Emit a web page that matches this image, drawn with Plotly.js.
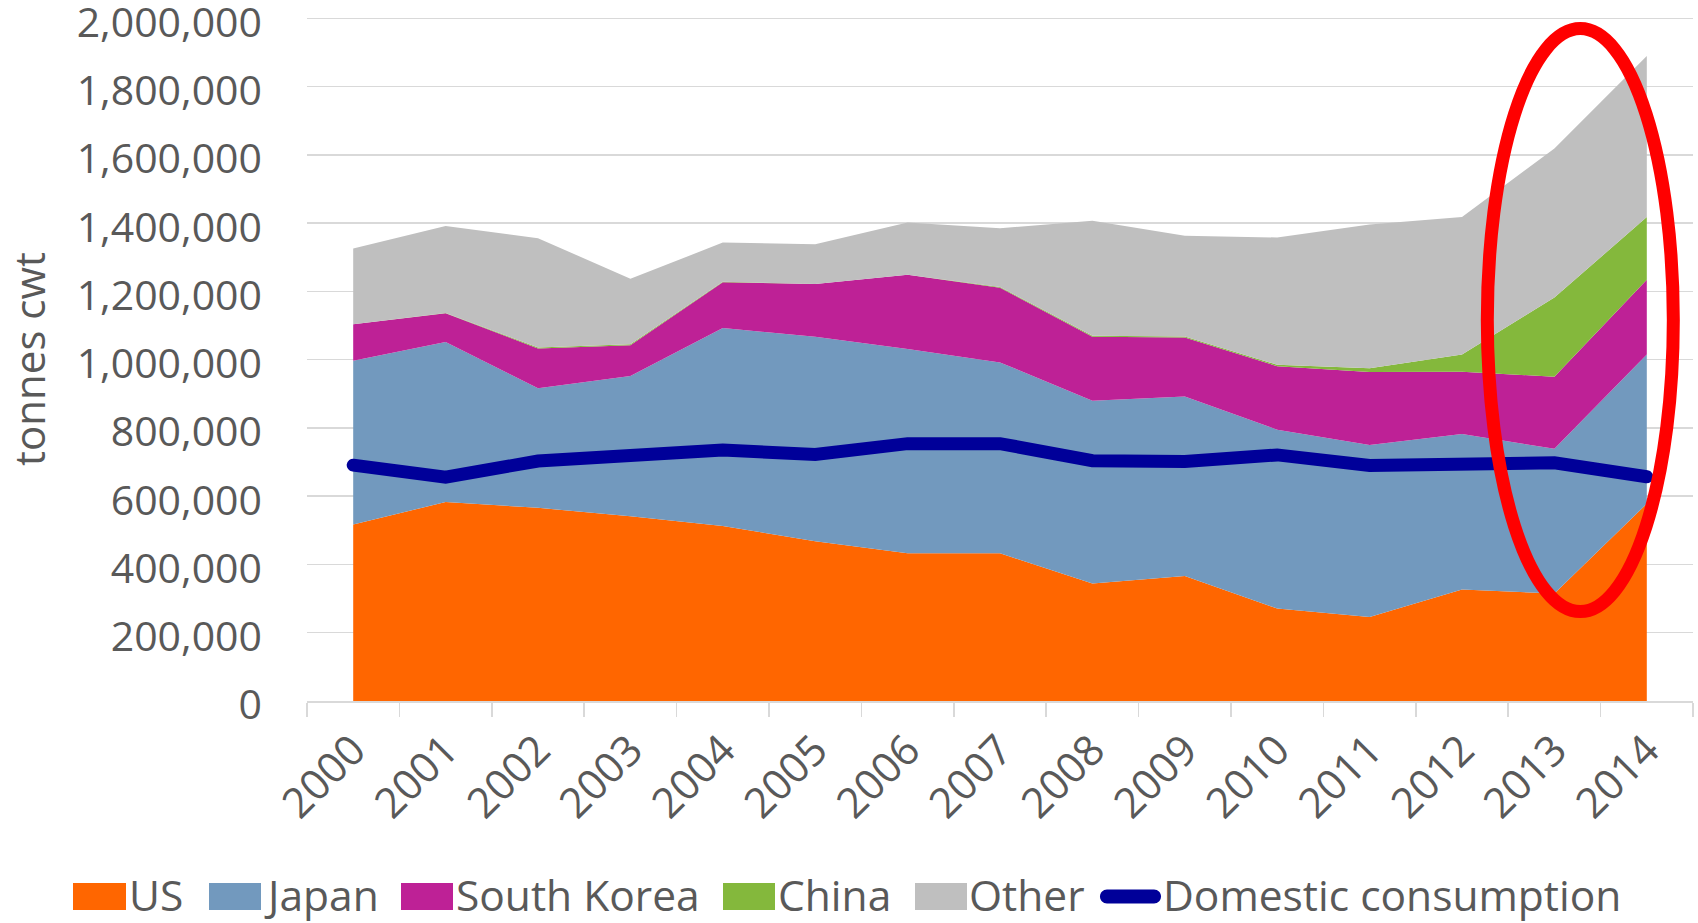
<!DOCTYPE html>
<html>
<head>
<meta charset="utf-8">
<script src="https://cdn.plot.ly/plotly-3.0.1.min.js"></script>
<style>
  html, body { margin: 0; padding: 0; background: #ffffff; }
  #chart { width: 1698px; height: 923px; }
  .scatterlayer .js-line { stroke-linecap: round; }
  .yaxislayer-above .ytick text { translate: 0 4px; }
</style>
</head>
<body>
<div id="chart"></div>
<script>
// ---- Data ----
const years = ["2000","2001","2002","2003","2004","2005","2006","2007","2008","2009","2010","2011","2012","2013","2014"];
const seriesNames = ["US", "Japan", "South Korea", "China", "Other"];
const usValues     = [517000, 583000, 566000, 541000, 513000, 468000, 433000, 433000, 344000, 366000, 271000, 246000, 327000, 315000, 578000];
const japanValues  = [480000, 469000, 350000, 411000, 580000, 599000, 598000, 559000, 536000, 526000, 524000, 504000, 455000, 424000, 437000];
const koreaValues  = [107000,  84000, 117000,  90000, 134000, 155000, 218000, 219000, 187000, 173000, 186000, 214000, 183000, 211000, 219000];
const chinaValues  = [     0,   1000,   3000,   3000,   1000,      0,      0,   2000,   3000,   3000,   4000,  11000,  50000, 232000, 184000];
const otherValues  = [222000, 255000, 320000, 192000, 115000, 116000, 153000, 172000, 337000, 295000, 373000, 421000, 403000, 437000, 472000];
const domesticName = "Domestic consumption";
const domesticValues = [691000, 656000, 703000, 721000, 735000, 722000, 754000, 754000, 704000, 702000, 721000, 690000, 695000, 698000, 657000];
const yTickValues = [0, 200000, 400000, 600000, 800000, 1000000, 1200000, 1400000, 1600000, 1800000, 2000000];
const yAxisTitle = "tonnes cwt";

// ---- Styles ----
const seriesColors = ["#ff6600", "#7299be", "#be2196", "#84b83c", "#bfbfbf"];
const domesticColor = "#000099";
const textColor = "#595959";
const gridColor = "#d9d9d9";
const fontFamily = "'Open Sans', 'DejaVu Sans', sans-serif";

const seriesValues = [usValues, japanValues, koreaValues, chinaValues, otherValues];

const traces = seriesNames.map((name, i) => ({
  type: "scatter",
  mode: "lines",
  name: name,
  x: years,
  y: seriesValues[i],
  stackgroup: "exports",
  fillcolor: seriesColors[i],
  line: { width: 0, color: seriesColors[i] },
  hoverinfo: "x+y+name"
}));

traces.push({
  type: "scatter",
  mode: "lines",
  name: domesticName,
  x: years,
  y: domesticValues,
  line: { color: domesticColor, width: 13 },
  hoverinfo: "x+y+name"
});

// ---- Layout geometry (pixels) ----
const W = 1698, H = 923;
const M = { l: 307, r: 5, t: 17, b: 222 };
const plotW = W - M.l - M.r;
const plotH = H - M.t - M.b;
const px2x = px => (px - M.l) / plotW;
const py2y = py => (H - M.b - py) / plotH;

// custom legend (swatches + labels)
const legendBoxes = [[73, 126], [209, 261], [401, 453], [723, 775], [915, 967]];
const legendTextX = [127, 262, 454, 776, 967, 1161];
const legendTop = 883, legendBottom = 910, legendTextMid = 894;
const domLineX = [1107, 1154], domLineHalf = 7;

const shapes = [];
const annotations = [];

legendBoxes.forEach((b, i) => {
  shapes.push({
    type: "rect", xref: "paper", yref: "paper",
    x0: px2x(b[0]), x1: px2x(b[1]), y0: py2y(legendBottom), y1: py2y(legendTop),
    fillcolor: seriesColors[i], line: { width: 0 }
  });
});
// rounded line swatch for domestic consumption
(function () {
  const cy = (legendTop + legendBottom) / 2;
  const x0 = domLineX[0], x1 = domLineX[1], r = domLineHalf;
  const k = 0.5523 * r;
  const P = (x, y) => px2x(x).toFixed(5) + "," + py2y(y).toFixed(5);
  const path =
    "M" + P(x0, cy - r) + " L" + P(x1, cy - r) +
    " C" + P(x1 + k, cy - r) + " " + P(x1 + r, cy - k) + " " + P(x1 + r, cy) +
    " C" + P(x1 + r, cy + k) + " " + P(x1 + k, cy + r) + " " + P(x1, cy + r) +
    " L" + P(x0, cy + r) +
    " C" + P(x0 - k, cy + r) + " " + P(x0 - r, cy + k) + " " + P(x0 - r, cy) +
    " C" + P(x0 - r, cy - k) + " " + P(x0 - k, cy - r) + " " + P(x0, cy - r) + " Z";
  shapes.push({ type: "path", xref: "paper", yref: "paper", path: path,
    fillcolor: domesticColor, line: { width: 0 } });
})();

seriesNames.concat([domesticName]).forEach((name, i) => {
  annotations.push({
    xref: "paper", yref: "paper",
    x: px2x(legendTextX[i]), y: py2y(legendTextMid),
    xanchor: "left", yanchor: "middle",
    text: name, showarrow: false,
    font: { family: fontFamily, size: 42.5, color: textColor }
  });
});

// red highlight ellipse around 2013-2014 (in axis coordinates)
shapes.push({
  type: "circle", xref: "x", yref: "y", layer: "above",
  x0: 12.274, x1: 14.287, y0: 262000, y1: 1970000,
  line: { color: "#ff0000", width: 13 }, fillcolor: "rgba(0,0,0,0)"
});

const layout = {
  width: W, height: H,
  margin: M,
  paper_bgcolor: "#ffffff",
  plot_bgcolor: "#ffffff",
  showlegend: false,
  font: { family: fontFamily, color: textColor },
  xaxis: {
    type: "category",
    range: [-0.5, 14.5],
    tickson: "boundaries",
    ticks: "outside",
    ticklen: 14,
    tickwidth: 1.5,
    tickcolor: gridColor,
    showline: true,
    linecolor: gridColor,
    linewidth: 1.5,
    showgrid: false,
    zeroline: false,
    tickangle: -45,
    ticklabelstandoff: 6,
    tickfont: { family: fontFamily, size: 42, color: textColor },
    fixedrange: true
  },
  yaxis: {
    range: [0, 2004000],
    tickmode: "array",
    tickvals: yTickValues,
    tickformat: ",d",
    showgrid: true,
    gridcolor: gridColor,
    gridwidth: 1.5,
    zeroline: false,
    showline: false,
    ticks: "",
    ticklabelstandoff: 44,
    ticklabeloverflow: "allow",
    tickfont: { family: fontFamily, size: 41, color: textColor },
    title: { text: yAxisTitle, font: { family: fontFamily, size: 42, color: textColor }, standoff: 18 },
    fixedrange: true
  },
  shapes: shapes,
  annotations: annotations
};

Plotly.newPlot("chart", traces, layout, { staticPlot: true, displayModeBar: false });
</script>
</body>
</html>
